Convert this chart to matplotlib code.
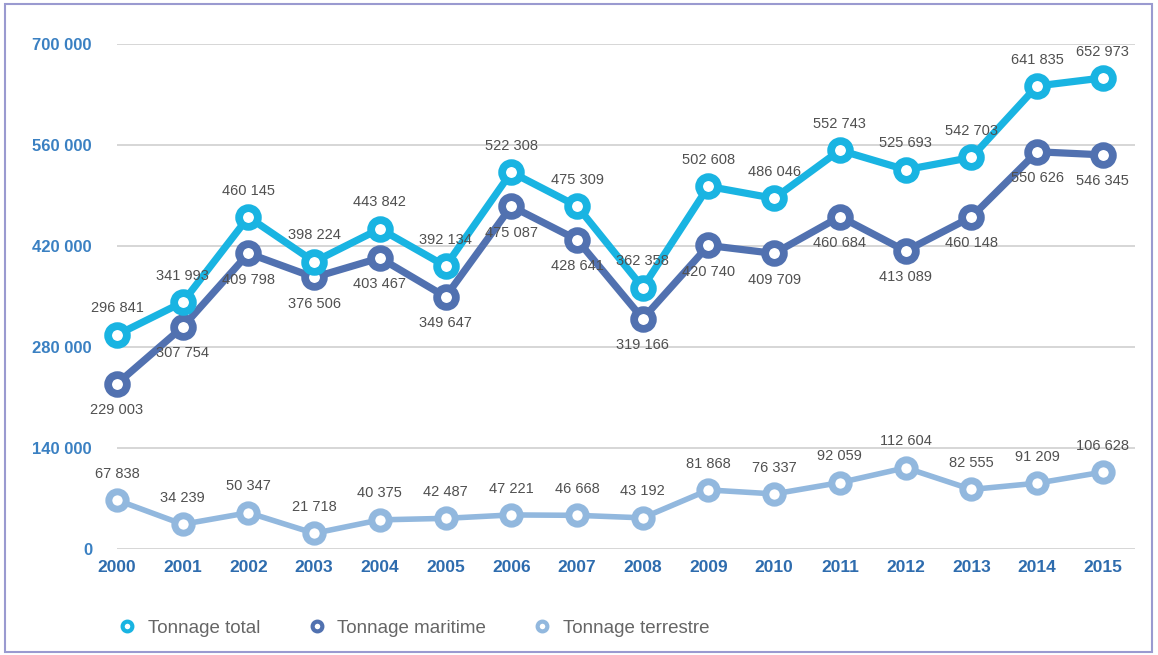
import matplotlib
matplotlib.use("Agg")
import matplotlib.pyplot as plt
from matplotlib.lines import Line2D
from matplotlib.patches import Rectangle

plt.rcParams["font.family"] = ["Liberation Sans", "DejaVu Sans"]

years = list(range(2000, 2016))
tonnage_total = [296841, 341993, 460145, 398224, 443842, 392134, 522308, 475309,
                 362358, 502608, 486046, 552743, 525693, 542703, 641835, 652973]
tonnage_maritime = [229003, 307754, 409798, 376506, 403467, 349647, 475087, 428641,
                    319166, 420740, 409709, 460684, 413089, 460148, 550626, 546345]
tonnage_terrestre = [67838, 34239, 50347, 21718, 40375, 42487, 47221, 46668,
                     43192, 81868, 76337, 92059, 112604, 82555, 91209, 106628]
series_names = ["Tonnage total", "Tonnage maritime", "Tonnage terrestre"]
y_ticks = [0, 140000, 280000, 420000, 560000, 700000]

c_total = "#19b4e2"
c_mar = "#5171b0"
c_ter = "#92b8de"
label_color = "#505050"
tick_color = "#3a80c2"


def fmt(v):
    return f"{v:,}".replace(",", " ")


W, H = 1158, 655
fig = plt.figure(figsize=(W / 100, H / 100), dpi=100)
ax = fig.add_axes([117 / W, 1 - 549 / H, (1135 - 117) / W, (549 - 44) / H])

ax.set_xlim(2000, 2015.49)
ax.set_ylim(0, 700000)
for s in ax.spines.values():
    s.set_visible(False)
for y in y_ticks:
    ax.axhline(y, color="#d6d6d6", lw=1.4, zorder=0)

ax.set_yticks(y_ticks)
ax.set_yticklabels([fmt(v) for v in y_ticks])
ax.set_xticks(years)
ax.set_xticklabels([str(y) for y in years])
ax.tick_params(axis="y", length=0, pad=18, labelsize=12, labelcolor=tick_color)
ax.tick_params(axis="x", length=0, pad=8, labelsize=12.5, labelcolor="#2e6cae")
for lab in ax.get_xticklabels() + ax.get_yticklabels():
    lab.set_fontweight("bold")

# values, colour, line width, marker size, marker edge, label offset
series = [
    (tonnage_terrestre, c_ter, 4.0, 12.5, 5.0, 19),
    (tonnage_maritime, c_mar, 5.2, 13.5, 5.6, -19),
    (tonnage_total, c_total, 5.2, 13.5, 5.6, 19),
]
for vals, col, lw, ms, mew, dy in series:
    ax.plot(years, vals, color=col, lw=lw, marker="o", ms=ms, mew=mew,
            mfc="white", mec=col, clip_on=False, solid_capstyle="round")
for vals, col, lw, ms, mew, dy in series:
    for x, v in zip(years, vals):
        ax.annotate(fmt(v), (x, v), xytext=(0, dy), textcoords="offset points",
                    ha="center", va="center", fontsize=10.5, color=label_color,
                    zorder=5)

handles = [Line2D([], [], ls="none", marker="o", ms=7, mew=3, mfc="white", mec=c)
           for c in (c_total, c_mar, c_ter)]
fig.legend(handles, series_names, loc="center left",
           bbox_to_anchor=(116 / W, 1 - 628 / H), ncol=3, frameon=False,
           fontsize=13.5, labelcolor="#666666", handletextpad=0.5,
           columnspacing=2.4, handlelength=1.2, borderpad=0, borderaxespad=0)

fig.add_artist(Rectangle((5 / W, 3 / H), (1152 - 5) / W, (651 - 3) / H,
                         transform=fig.transFigure, fill=False,
                         edgecolor="#9a9ad0", lw=1.5))

fig.savefig("out.png", dpi=100)
